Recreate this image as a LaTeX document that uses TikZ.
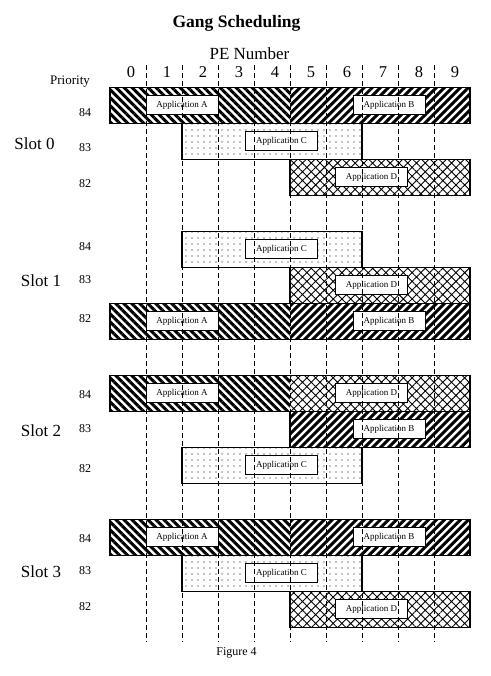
\documentclass[tikz,border=0pt]{standalone}
\usepackage{fontspec}
\setmainfont{Liberation Serif}
\usetikzlibrary{patterns.meta}
\tikzset{
  fillbox/.style={inner sep=0pt, outer sep=0pt, minimum height=36pt, minimum width=180pt, anchor=north west},
  hatchA/.style={pattern={Lines[angle=-45,distance=5.66pt,line width=3pt]}},
  hatchB/.style={pattern={Lines[angle=45,distance=5.66pt,line width=3pt]}},
  hatchC/.style={pattern={Dots[distance=6pt,radius=0.7pt]}},
  hatchD/.style={pattern={Hatch[angle=45,distance=6.2pt,line width=0.9pt]}},
  outline/.style={draw=black, line width=1.3pt},
  applabel/.style={draw=black, fill=white, line width=1pt, minimum width=72pt, minimum height=19pt, inner sep=0pt, font=\fontsize{9}{9}\selectfont},
  pedash/.style={line width=1pt, dash pattern=on 5pt off 3pt},
  bigtext/.style={inner sep=0pt, anchor=base, font=\fontsize{17}{17}\selectfont},
  prio/.style={inner sep=0pt, anchor=center, font=\fontsize{12}{12}\selectfont},
}
\newcommand{\appbar}[6]{%
  \node[fillbox,#4] (bar#1) at (#2,#3) {};
  \node[applabel] (lab#1) at ([xshift=#6pt,yshift=0.5pt]bar#1.west) {#5};
}
\begin{document}
\begin{tikzpicture}[x=1pt,y=-1pt]
\useasboundingbox[fill=white] (0,0) rectangle (490,676);
% titles
\node[inner sep=0pt, anchor=base, font=\fontsize{17.5}{17.5}\selectfont\bfseries] (title) at (236.5,28) {Gang Scheduling};
\node[bigtext] (penum) at (249.5,60) {PE Number};
\foreach \i in {0,...,9} {
  \node[inner sep=0pt, anchor=base, font=\fontsize{16.5}{16.5}\selectfont] (pe\i) at ({131+36*\i},77.5) {\i};
}
\node[inner sep=0pt, anchor=base, font=\fontsize{13}{13}\selectfont] (prio) at (70,85) {Priority};
% slot labels
\node[bigtext] (slot0) at (34.5,150) {Slot 0};
\node[bigtext] (slot1) at (41,286.5) {Slot 1};
\node[bigtext] (slot2) at (41,436) {Slot 2};
\node[bigtext] (slot3) at (41,577) {Slot 3};
% priority labels
\node[prio] (p084) at (85,112.5) {84};
\node[prio] (p083) at (85,147.5) {83};
\node[prio] (p082) at (85,183.5) {82};
\node[prio] (p184) at (85,246.5) {84};
\node[prio] (p183) at (85,279.5) {83};
\node[prio] (p182) at (85,318.5) {82};
\node[prio] (p284) at (85,395) {84};
\node[prio] (p283) at (85,429) {83};
\node[prio] (p282) at (85,468.5) {82};
\node[prio] (p384) at (85,539) {84};
\node[prio] (p383) at (85,571) {83};
\node[prio] (p382) at (85,607) {82};
% slot 0
\appbar{A0}{110}{87.5}{hatchA}{Application A}{72}
\appbar{B0}{290}{87.5}{hatchB}{Application B}{99}
\appbar{C0}{182}{123.5}{hatchC}{Application C}{99.5}
\appbar{D0}{290}{159.5}{hatchD}{Application D}{81.5}
\draw[outline] (barA0.north west) rectangle (barB0.south east);
\draw[outline] (barC0.north west) rectangle (barC0.south east);
\draw[outline] (barD0.north west) rectangle (barD0.south east);
% slot 1
\appbar{C1}{182}{231.5}{hatchC}{Application C}{99.5}
\appbar{D1}{290}{267.5}{hatchD}{Application D}{81.5}
\appbar{A1}{110}{303.5}{hatchA}{Application A}{72}
\appbar{B1}{290}{303.5}{hatchB}{Application B}{99}
\draw[outline] (barC1.north west) rectangle (barC1.south east);
\draw[outline] (barD1.north west) rectangle (barD1.south east);
\draw[outline] (barA1.north west) rectangle (barB1.south east);
% slot 2
\appbar{A2}{110}{375.5}{hatchA}{Application A}{72}
\appbar{D2}{290}{375.5}{hatchD}{Application D}{81.5}
\appbar{B2}{290}{411.5}{hatchB}{Application B}{99}
\appbar{C2}{182}{447.5}{hatchC}{Application C}{99.5}
\draw[outline] (barA2.north west) rectangle (barD2.south east);
\draw[outline] (barB2.north west) rectangle (barB2.south east);
\draw[outline] (barC2.north west) rectangle (barC2.south east);
% slot 3
\appbar{A3}{110}{519.5}{hatchA}{Application A}{72}
\appbar{B3}{290}{519.5}{hatchB}{Application B}{99}
\appbar{C3}{182}{555.5}{hatchC}{Application C}{99.5}
\appbar{D3}{290}{591.5}{hatchD}{Application D}{81.5}
\draw[outline] (barA3.north west) rectangle (barB3.south east);
\draw[outline] (barC3.north west) rectangle (barC3.south east);
\draw[outline] (barD3.north west) rectangle (barD3.south east);
% dashed PE separators
\foreach \i in {1,...,9} {
  \coordinate (dtop\i) at ({110+36*\i},65);
  \coordinate (dbot\i) at ({110+36*\i},642);
  \draw[pedash] (dtop\i) -- (dbot\i);
}
\node[inner sep=0pt, anchor=base, font=\fontsize{12}{12}\selectfont] (fig) at (236.5,655) {Figure 4};
\end{tikzpicture}
\end{document}
